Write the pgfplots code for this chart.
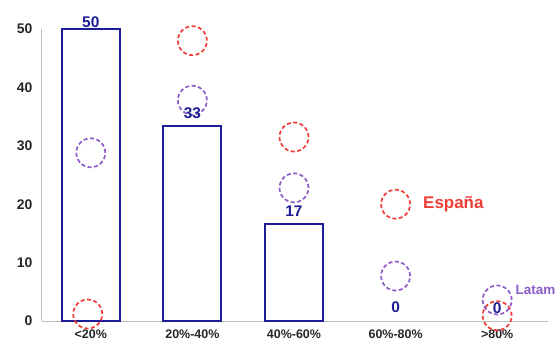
\documentclass[border=0pt]{standalone}
\usepackage{pgfplots}
\pgfplotsset{compat=1.18}
\usepackage{fontspec}
\setmainfont{Liberation Sans}
\definecolor{barblue}{RGB}{28,28,150}
\definecolor{esred}{RGB}{240,60,55}
\definecolor{latpurple}{RGB}{140,92,200}
\begin{document}
\begin{tikzpicture}
\begin{axis}[
 at={(0,0)}, anchor=south west,
 scale only axis, width=506bp, height=292bp,
 xmin=-0.48, xmax=4.5, ymin=0, ymax=50,
 axis lines=left, axis line style={black!25, line width=1bp, -},
 xtick={0,...,4}, xticklabels={<20\%,20\%-40\%,40\%-60\%,60\%-80\%,>80\%},
 ytick={0,10,...,50},
 major tick length=0pt,
 /pgf/number format/assume math mode=true,
 yticklabel style={font=\fontsize{14}{14}\selectfont\bfseries, text=black!85, xshift=-6bp},
 xticklabel style={font=\fontsize{12.5}{13}\selectfont\bfseries, text=black!85, yshift=-5bp},
 clip=false,
]
\addplot[ybar, bar width=58bp, draw=barblue, fill=white, line width=1.8bp] coordinates {(0,50) (1,33.33) (2,16.67)};
\addplot[only marks, mark=o, mark size=14.5bp, mark options={draw=esred, line width=1.7bp, dash pattern=on 4bp off 2.5bp}] coordinates {(-0.03,1.2) (1,48) (2,31.5) (3,20) (4,0.9)};
\addplot[only marks, mark=o, mark size=14.5bp, mark options={draw=latpurple, line width=1.7bp, dash pattern=on 4bp off 2.5bp}] coordinates {(0,28.8) (1,37.8) (2,22.8) (3,7.7) (4,3.6)};
\addplot[draw=none, mark=none, nodes near coords, point meta=explicit symbolic, nodes near coords style={anchor=center, font=\fontsize{15.5}{15.5}\selectfont\bfseries, text=barblue}] coordinates {(0,51.2)[50] (1,35.6)[33] (2,18.8)[17] (3,2.3)[0] (4,2.2)[0]};
\node[text=esred, font=\fontsize{17}{17}\selectfont\bfseries, anchor=west, inner sep=0pt] at (axis cs:3.27,20) {España};
\node[text=latpurple, font=\fontsize{13.5}{13.5}\selectfont\bfseries, anchor=west, inner sep=0pt] at (axis cs:4.18,5.3) {Latam};
\end{axis}
\pgfresetboundingbox
\path (-42bp,-20bp) rectangle (515bp,321bp);
\end{tikzpicture}
\end{document}
